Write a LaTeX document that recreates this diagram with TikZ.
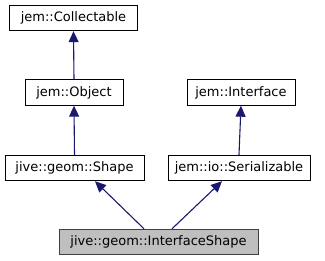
\documentclass[tikz,border=0pt]{standalone}
\usepackage{fontspec}
\setmainfont{DejaVu Sans}
\usetikzlibrary{arrows.meta,calc}
\definecolor{edgeblue}{HTML}{191970}
\begin{document}
\begin{tikzpicture}[x=1pt,y=-1pt,
  cls/.style={draw=black,line width=0.9pt,fill=white,inner sep=0pt,
    minimum height=25.5pt,font=\fontsize{13pt}{15pt}\selectfont},
  cur/.style={cls,fill=black!25,draw=black!75},
  inh/.style={draw=edgeblue,line width=1.1pt,
    {Triangle[length=11pt,width=10pt,fill=edgeblue]}-}]
  \useasboundingbox (0,0) rectangle (325,261);
  \node[cls,minimum width=128pt] (coll) at (73.5,18) {jem::Collectable};
  \node[cls,minimum width=98pt] (obj) at (74,92.5) {jem::Object};
  \node[cls,minimum width=108pt] (intf) at (241,92.5) {jem::Interface};
  \node[cls,minimum width=139pt] (shape) at (74.5,168) {jive::geom::Shape};
  \node[cls,minimum width=142pt] (ser) at (239,168) {jem::io::Serializable};
  \node[cur,minimum width=199pt] (ishape) at (158.5,242) {jive::geom::InterfaceShape};
  \draw[inh] (coll.south) -- (obj.north);
  \draw[inh] (obj.south) -- (shape.north);
  \draw[inh] (intf.south) -- (ser.north);
  \draw[inh] ($(shape.south)+(20.5,0)$) -- ($(ishape.north)+(-14.5,0)$);
  \draw[inh] ($(ser.south)+(-17,0)$) -- ($(ishape.north)+(13.5,0)$);
\end{tikzpicture}
\end{document}
